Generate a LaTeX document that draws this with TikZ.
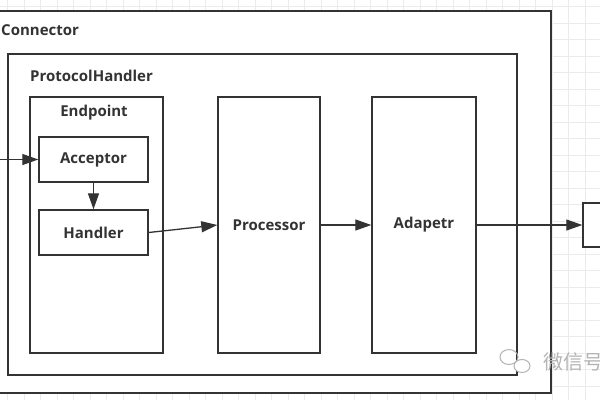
\documentclass[tikz,border=0pt]{standalone}
\usepackage{fontspec}
\setmainfont{Open Sans}
\newfontfamily\cjkfont{Noto Sans CJK SC}
\usepackage{tikz}
\usetikzlibrary{calc,positioning,arrows.meta,fit,shapes}
\definecolor{linec}{HTML}{333333}
\definecolor{gridc}{HTML}{EBEBEB}
\definecolor{markc}{HTML}{B4B4B4}

\begin{document}
\begin{tikzpicture}[x=1pt,y=-1pt, box/.style={draw=linec,line width=1.4pt,fill=white,inner sep=0pt,font=\fontsize{15}{17}\selectfont\bfseries,text=linec},lbl/.style={font=\fontsize{15}{17}\selectfont\bfseries,text=linec,inner sep=0pt},conn/.style={draw=linec,line width=1.3pt,-{Triangle[length=16pt,width=11pt]}}]
              \useasboundingbox (0,0) rectangle (600,400);
              \fill[white] (0,0) rectangle (600,400);
              \foreach \gx in {0,...,36} \draw[gridc,line width=0.8pt] (7.5+16.5*\gx,0) -- (7.5+16.5*\gx,400);
              \foreach \gy in {0,...,24} \draw[gridc,line width=0.8pt] (0,6.5+16.5*\gy) -- (600,6.5+16.5*\gy);

              \node[box,minimum width=561,minimum height=382] (connector) at (270.5,202) {};
              \node[box,minimum width=509,minimum height=321] (protocol) at (262.5,214.5) {};
              \node[box,minimum width=133,minimum height=256] (endpoint) at (96.5,225) {};
              \node[box,minimum width=109,minimum height=45] (acceptor) at (93.5,159.5) {Acceptor};
              \node[box,minimum width=109,minimum height=45] (handler) at (93.5,232.5) {Handler};
              \node[box,minimum width=102,minimum height=256] (processor) at (269,225) {Processor};
              \node[box,minimum width=104,minimum height=256] (adapter) at (424,225) {Adapetr};
              \node[box,minimum width=42,minimum height=44] (outside) at (604,225) {};

              \node[lbl,anchor=west] (connlbl) at (1,30) {Connector};
              \node[lbl,anchor=west] (protolbl) at (30,76) {ProtocolHandler};
              \node[lbl] (endlbl) at (94,113) {Endpoint};

              \coordinate (input) at (-5,159.5);
              \draw[conn] (input) -- (acceptor);
              \draw[conn] (acceptor) -- (handler);
              \draw[conn] (handler.east) -- (processor.west);
              \draw[conn] (processor) -- (adapter);
              \draw[conn] (adapter) -- (outside);

              % watermark
              \draw[markc,line width=1pt] (509,357) ellipse (9 and 7.5);
              \draw[markc,line width=1pt,fill=white] (522,366) ellipse (8 and 6.5);
              \node[text=markc,font=\cjkfont\fontsize{20}{22}\selectfont,anchor=west] (mark) at (540,362) {微信号};
            \end{tikzpicture}
\end{document}
